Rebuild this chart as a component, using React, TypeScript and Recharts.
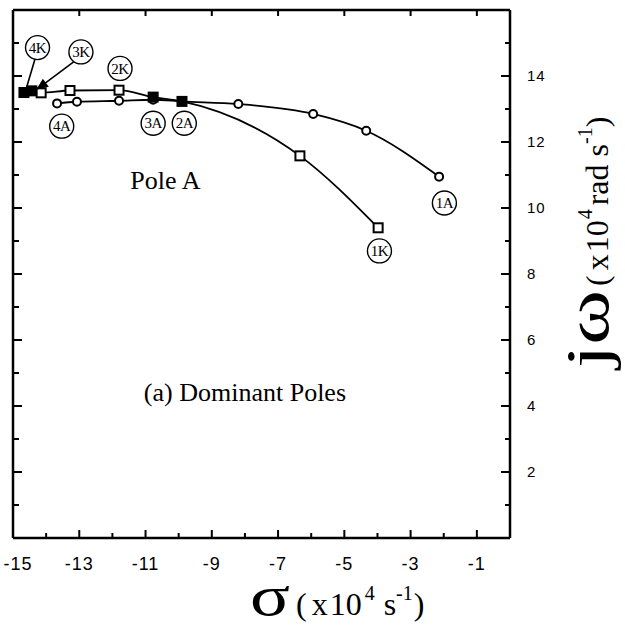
import React from 'react';
import { ComposedChart, Line, XAxis, YAxis, ReferenceDot, ReferenceLine } from 'recharts';

// Pole A trajectory (circles), sigma and j-omega in 1e4 units
const poleASigma = [-13.67, -13.07, -11.8, -10.77, -9.9, -8.2, -5.94, -4.34, -2.14];
const poleAOmega = [13.17, 13.22, 13.25, 13.28, 13.23, 13.15, 12.85, 12.34, 10.95];

// Pole K trajectory (squares)
const poleKSigma = [-14.67, -14.43, -14.15, -13.28, -11.8, -10.77, -9.9, -6.34, -3.98];
const poleKOmega = [13.5, 13.55, 13.49, 13.56, 13.57, 13.36, 13.23, 11.58, 9.4];

// Point annotations (circled labels)
const annoText = ['1A', '2A', '3A', '4A', '1K', '2K', '3K', '4K'];
const annoSigma = [-1.98, -9.83, -10.77, -13.53, -3.94, -11.77, -12.95, -14.26];
const annoOmega = [10.15, 12.57, 12.57, 12.48, 8.7, 14.23, 14.73, 14.86];

const xTicks = [-15, -14, -13, -12, -11, -10, -9, -8, -7, -6, -5, -4, -3, -2, -1, 0];
const yTicks = [0, 1, 2, 3, 4, 5, 6, 7, 8, 9, 10, 11, 12, 13, 14, 15, 16];

const poleA = poleASigma.map((x, i) => ({ x, y: poleAOmega[i] }));
const poleK = poleKSigma.map((x, i) => ({ x, y: poleKOmega[i] }));
const filledK = [0, 1, 5, 6];

const SERIF = '"Liberation Serif", "Times New Roman", serif';
const SANS = '"Liberation Sans", Arial, sans-serif';

const isOdd = (v: number) => Math.abs(v) % 2 === 1;

const BottomTick = (p: any) => {
  const v = p.payload.value;
  const major = isOdd(v);
  const lx = v === -15 ? p.x + 5 : p.x;
  return (
    <g>
      <line x1={p.x} x2={p.x} y1={p.y} y2={p.y - (major ? 8 : 5)} stroke="#000" strokeWidth={2} />
      {major && (
        <text x={lx} y={p.y + 32} textAnchor="middle" fontFamily={SANS} fontSize={18} letterSpacing={1} fill="#000">
          {String(v)}
        </text>
      )}
    </g>
  );
};

const TopTick = (p: any) => {
  const v = p.payload.value;
  if (!isOdd(v)) return <g />;
  return <line x1={p.x} x2={p.x} y1={p.y} y2={p.y + 6} stroke="#000" strokeWidth={2} />;
};

const RightTick = (p: any) => {
  const v = p.payload.value;
  const major = v % 2 === 0;
  return (
    <g>
      <line x1={p.x} x2={p.x - (major ? 9 : 5)} y1={p.y} y2={p.y} stroke="#000" strokeWidth={2} />
      {major && v > 0 && v < 16 && (
        <text x={p.x + 17} y={p.y} dy="0.36em" textAnchor="start" fontFamily={SANS} fontSize={15} letterSpacing={1} fill="#000">
          {String(v)}
        </text>
      )}
    </g>
  );
};

const LeftTick = (p: any) => {
  const v = p.payload.value;
  const major = v % 2 === 0;
  return <line x1={p.x} x2={p.x + (major ? 9 : 6)} y1={p.y} y2={p.y} stroke="#000" strokeWidth={2} />;
};

const CircleDot = (p: any) => {
  if (p.cx == null || p.cy == null) return <g key={`a-${p.index}`} />;
  return <circle key={`a-${p.index}`} cx={p.cx} cy={p.cy} r={4} fill="#fff" stroke="#000" strokeWidth={2} />;
};

const SquareDot = (p: any) => {
  if (p.cx == null || p.cy == null) return <g key={`k-${p.index}`} />;
  const filled = filledK.includes(p.index);
  return (
    <rect key={`k-${p.index}`} x={p.cx - 4.5} y={p.cy - 4.5} width={9} height={9}
      fill={filled ? '#000' : '#fff'} stroke="#000" strokeWidth={2} />
  );
};

const circledLabel = (txt: string) => (p: any) => (
  <g>
    <circle cx={p.cx} cy={p.cy} r={12} fill="#fff" stroke="#000" strokeWidth={1.4} />
    <text x={p.cx} y={p.cy} dy="0.35em" textAnchor="middle" fontFamily={SERIF} fontSize={15} letterSpacing={-0.5} fill="#000">
      {txt}
    </text>
  </g>
);

const textShape = (txt: string, size: number) => (p: any) => (
  <text x={p.cx} y={p.cy} dy="0.35em" textAnchor="middle" fontFamily={SERIF} fontSize={size} fill="#000">
    {txt}
  </text>
);

const arrowHead = (p: any) => {
  const ang = Math.atan2(26, -35);
  const L = 12, W = 5;
  const bx = p.cx - L * Math.cos(ang), by = p.cy - L * Math.sin(ang);
  const nx = -Math.sin(ang) * W, ny = Math.cos(ang) * W;
  return <polygon points={`${p.cx},${p.cy} ${bx + nx},${by + ny} ${bx - nx},${by - ny}`} fill="#000" />;
};

const BottomTitle = (props: any) => {
  const vb = props.viewBox;
  const x = vb.x + 237;
  const y = vb.y + 77;
  return (
    <g fill="#000">
      <text x={x} y={y} fontFamily={SERIF} fontSize={58} textLength={40} lengthAdjust="spacingAndGlyphs">σ</text>
      <text x={x + 46} y={y} fontFamily={SERIF} fill="#000">
        <tspan fontSize={32}>(</tspan>
        <tspan fontSize={32} dx={5}>x</tspan>
        <tspan fontSize={32} dx={2}>10</tspan>
        <tspan fontSize={20} dy={-15} dx={3}>4</tspan>
        <tspan fontSize={32} dy={15} dx={9}>s</tspan>
        <tspan fontSize={20} dy={-15}>-1</tspan>
        <tspan fontSize={32} dy={15} dx={1}>)</tspan>
      </text>
    </g>
  );
};

const RightTitle = (props: any) => {
  const vb = props.viewBox;
  const x = vb.x + 98;
  const y1 = vb.y + 358;
  const y2 = vb.y + 276;
  return (
    <g fill="#000">
      <text x={x} y={y1} transform={`rotate(-90, ${x}, ${y1})`} fontFamily={SERIF} fontSize={62}
        textLength={78} lengthAdjust="spacingAndGlyphs">jω</text>
      <text x={x} y={y2} transform={`rotate(-90, ${x}, ${y2})`} fontFamily={SERIF} fill="#000">
        <tspan fontSize={32}>(</tspan>
        <tspan fontSize={32} dx={5}>x</tspan>
        <tspan fontSize={32} dx={2}>10</tspan>
        <tspan fontSize={20} dy={-16} dx={1}>4</tspan>
        <tspan fontSize={32} dy={16} dx={4}>rad</tspan>
        <tspan fontSize={32} dx={8}>s</tspan>
        <tspan fontSize={20} dy={-16}>-1</tspan>
        <tspan fontSize={32} dy={16}>)</tspan>
      </text>
    </g>
  );
};

export default function App() {
  return (
    <div style={{ position: 'absolute', left: 0, top: 0, width: 625, height: 629 }}>
      <ComposedChart width={625} height={629} margin={{ top: 0, right: 0, bottom: 0, left: 0 }}>
        <XAxis xAxisId="b" dataKey="x" type="number" orientation="bottom" domain={[-15, 0]} ticks={xTicks}
          interval={0} height={91} tickSize={0} tickMargin={0} tickLine={false}
          axisLine={{ stroke: '#000', strokeWidth: 2.5 }} tick={<BottomTick />} allowDataOverflow
          label={{ content: <BottomTitle /> }} />
        <XAxis xAxisId="t" dataKey="x" type="number" orientation="top" domain={[-15, 0]} ticks={xTicks}
          interval={0} height={10} tickSize={0} tickMargin={0} tickLine={false}
          axisLine={{ stroke: '#000', strokeWidth: 2.5 }} tick={<TopTick />} allowDataOverflow />
        <YAxis yAxisId="r" dataKey="y" type="number" orientation="right" domain={[0, 16]} ticks={yTicks}
          interval={0} width={115} tickSize={0} tickMargin={0} tickLine={false}
          axisLine={{ stroke: '#000', strokeWidth: 2.5 }} tick={<RightTick />} allowDataOverflow
          label={{ content: <RightTitle /> }} />
        <YAxis yAxisId="l" dataKey="y" type="number" orientation="left" domain={[0, 16]} ticks={yTicks}
          interval={0} width={13} tickSize={0} tickMargin={0} tickLine={false}
          axisLine={{ stroke: '#000', strokeWidth: 2.5 }} tick={<LeftTick />} allowDataOverflow />

        <ReferenceLine xAxisId="b" yAxisId="r" segment={[{ x: -14.34, y: 14.5 }, { x: -14.6, y: 13.62 }]}
          stroke="#000" strokeWidth={1.6} />
        <ReferenceLine xAxisId="b" yAxisId="r" segment={[{ x: -13.17, y: 14.43 }, { x: -14.25, y: 13.62 }]}
          stroke="#000" strokeWidth={1.6} />

        <Line xAxisId="b" yAxisId="r" data={poleA} dataKey="y" type="monotone" stroke="#000" strokeWidth={1.8}
          dot={CircleDot} activeDot={false} isAnimationActive={false} />
        <Line xAxisId="b" yAxisId="r" data={poleK} dataKey="y" type="monotone" stroke="#000" strokeWidth={1.8}
          dot={SquareDot} activeDot={false} isAnimationActive={false} />

        <ReferenceDot xAxisId="b" yAxisId="r" x={-14.3} y={13.58} r={0} shape={arrowHead} />

        {annoText.map((t, i) => (
          <ReferenceDot key={t} xAxisId="b" yAxisId="r" x={annoSigma[i]} y={annoOmega[i]} r={12}
            shape={circledLabel(t)} />
        ))}
        <ReferenceDot xAxisId="b" yAxisId="r" x={-10.4} y={10.86} r={1} shape={textShape('Pole A', 26)} />
        <ReferenceDot xAxisId="b" yAxisId="r" x={-8.0} y={4.42} r={1} shape={textShape('(a) Dominant Poles', 26)} />
      </ComposedChart>
    </div>
  );
}
